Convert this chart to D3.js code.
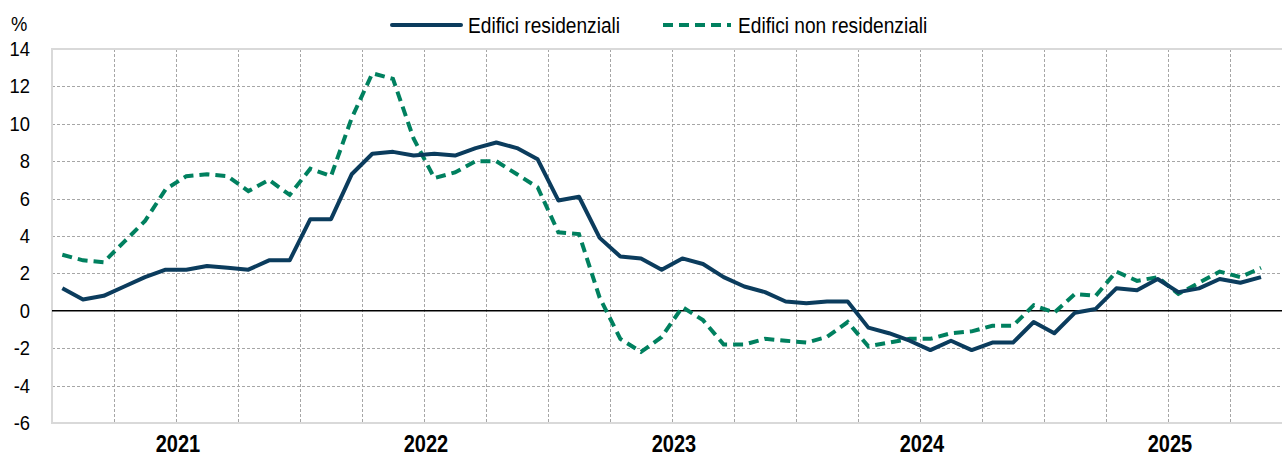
<!DOCTYPE html>
<html>
<head>
<meta charset="utf-8">
<script src="https://cdn.jsdelivr.net/npm/d3@7"></script>
<style>
body{margin:0;background:#fff;}
svg{display:block;font-family:"Liberation Sans",Arial,sans-serif;}
</style>
</head>
<body>
<div id="main"></div>
<script>
// categories: monthly, Jan 2021 - Dec 2025
var years=['2021','2022','2023','2024','2025'];
var monthNums=['01','02','03','04','05','06','07','08','09','10','11','12'];
var yTicks=[-6,-4,-2,0,2,4,6,8,10,12,14];

var residenziali=[1.2,0.6,0.8,1.3,1.8,2.2,2.2,2.4,2.3,2.2,2.7,2.7,
  4.9,4.9,7.3,8.4,8.5,8.3,8.4,8.3,8.7,9.0,8.7,8.1,
  5.9,6.1,3.9,2.9,2.8,2.2,2.8,2.5,1.8,1.3,1.0,0.5,
  0.4,0.5,0.5,-0.9,-1.2,-1.6,-2.1,-1.6,-2.1,-1.7,-1.7,-0.6,
  -1.2,-0.1,0.1,1.2,1.1,1.7,1.0,1.2,1.7,1.5,1.8];
var nonResidenziali=[3.0,2.7,2.6,3.7,4.8,6.5,7.2,7.3,7.2,6.4,7.0,6.2,
  7.6,7.2,10.3,12.7,12.4,9.2,7.1,7.4,8.0,8.0,7.3,6.6,
  4.2,4.1,0.7,-1.5,-2.2,-1.4,0.2,-0.5,-1.8,-1.8,-1.5,-1.6,
  -1.7,-1.4,-0.6,-1.9,-1.7,-1.5,-1.5,-1.2,-1.1,-0.8,-0.8,0.3,
  -0.1,0.9,0.8,2.1,1.6,1.8,0.9,1.5,2.1,1.8,2.3];

var months=[];
years.forEach(function(y){monthNums.forEach(function(m){months.push(y+'-'+m)})});

var width=1282, height=458;
var plotLeft=52, plotRight=1292, plotTop=49, plotBottom=423;

var svg=d3.select('#main')
  .append('svg')
    .attr('width',width)
    .attr('height',height);

var x=d3.scaleBand()
    .domain(months)
    .range([plotLeft,plotRight]);
var y=d3.scaleLinear()
    .domain([-6,14])
    .range([plotBottom,plotTop]);
var cx=function(i){return x(months[i])+x.bandwidth()/2};

// condensed text helper (the original font is a bit narrower than Arial)
function label(g,tx,ty,sx){
  return g.append('text').attr('transform','translate('+tx+','+ty+') scale('+sx+',1)');
}

// horizontal gridlines
svg.append('g')
  .selectAll('line')
  .data(yTicks.filter(function(d){return d!==0&&d!==14&&d!==-6}))
  .enter().append('line')
    .attr('x1',plotLeft).attr('x2',plotRight)
    .attr('y1',function(d){return Math.round(y(d))+0.5}).attr('y2',function(d){return Math.round(y(d))+0.5})
    .attr('stroke','#a6a6a6')
    .attr('stroke-width',1)
    .attr('stroke-dasharray','3,2');

// vertical gridlines every quarter
svg.append('g')
  .selectAll('line')
  .data(months.filter(function(d,i){return i>0&&i%3===0}))
  .enter().append('line')
    .attr('x1',function(d){return Math.round(x(d))+0.5}).attr('x2',function(d){return Math.round(x(d))+0.5})
    .attr('y1',plotTop).attr('y2',plotBottom)
    .attr('stroke','#a6a6a6')
    .attr('stroke-width',1)
    .attr('stroke-dasharray','3,2');

// frame (top, left, bottom)
svg.append('path')
    .attr('d','M'+plotRight+','+y(14)+'H'+plotLeft+'V'+y(-6)+'H'+plotRight)
    .attr('fill','none')
    .attr('stroke','#d9d9d9')
    .attr('stroke-width',2);

// zero line
svg.append('line')
    .attr('x1',plotLeft).attr('x2',plotRight)
    .attr('y1',y(0)).attr('y2',y(0))
    .attr('stroke','#000')
    .attr('stroke-width',1.5);

// y axis labels
var yAxis=svg.append('g').attr('font-size',20);
yTicks.forEach(function(d){
  label(yAxis,30,y(d),0.92)
    .attr('dy','0.35em')
    .attr('text-anchor','end')
    .text(d);
});

label(svg,11,31,0.92).attr('font-size',20).text('%');

// year labels
var xAxis=svg.append('g').attr('font-size',23).attr('font-weight','bold');
years.forEach(function(d){
  label(xAxis,x(d+'-06')+x.bandwidth()+2,452,0.87)
    .attr('text-anchor','middle')
    .text(d);
});

var line=d3.line()
    .x(function(d,i){return cx(i)})
    .y(function(d){return y(d)});

svg.append('path')
    .datum(nonResidenziali)
    .attr('d',line)
    .attr('fill','none')
    .attr('stroke','#00805f')
    .attr('stroke-width',4)
    .attr('stroke-dasharray','10,6');

svg.append('path')
    .datum(residenziali)
    .attr('d',line)
    .attr('fill','none')
    .attr('stroke','#0b3c5d')
    .attr('stroke-width',4)
    .attr('stroke-linejoin','round');

// legend
var legend=svg.append('g').attr('font-size',22);
legend.append('line')
    .attr('x1',392).attr('x2',461).attr('y1',25).attr('y2',25)
    .attr('stroke','#0b3c5d').attr('stroke-width',4).attr('stroke-linecap','round');
label(legend,468,25,0.87)
    .attr('dy','0.35em')
    .text('Edifici residenziali');
legend.append('line')
    .attr('x1',663).attr('x2',731).attr('y1',25).attr('y2',25)
    .attr('stroke','#00805f').attr('stroke-width',4).attr('stroke-dasharray','10,6');
label(legend,738,25,0.87)
    .attr('dy','0.35em')
    .text('Edifici non residenziali');
</script>
</body>
</html>
